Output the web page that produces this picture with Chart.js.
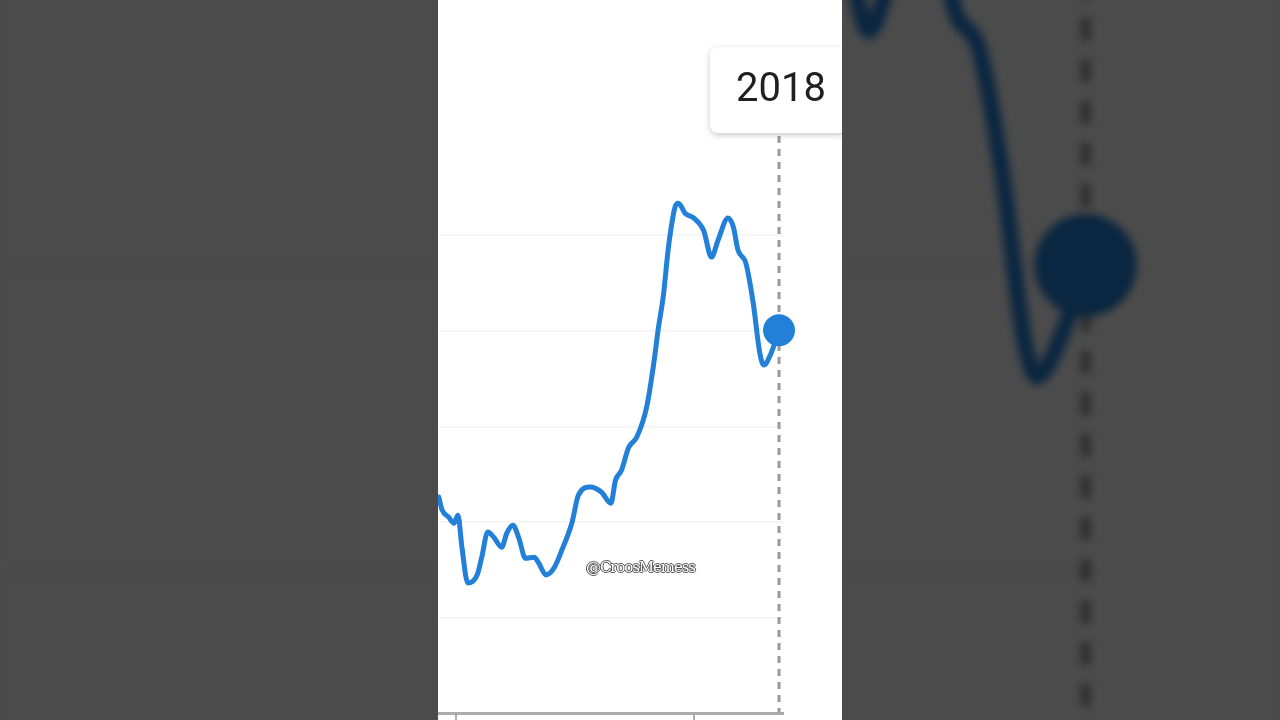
<!DOCTYPE html>
<html>
<head>
<meta charset="utf-8">
<script src="https://cdn.jsdelivr.net/npm/chart.js@4/dist/chart.umd.min.js"></script>
<style>
	html, body { margin: 0; padding: 0; width: 1280px; height: 720px; overflow: hidden; background: #4b4b4b; }
	#backdrop { position: absolute; left: 438px; top: 0; width: 404px; height: 720px; background: #fff; overflow: hidden;
		transform: scale(3.2); transform-origin: 202px 360px; filter: brightness(0.294) blur(1.4px); }
	#panel { position: absolute; left: 438px; top: 0; width: 404px; height: 720px; background: #fff; overflow: hidden; }
	canvas { position: absolute; left: -15px; top: 0; }
	#watermark { position: absolute; left: 586px; top: 558px; font: 15px "DejaVu Serif", serif; letter-spacing: -1.1px;
		color: #fff; text-shadow: -1px 0 #555, 1px 0 #555, 0 -1px #555, 0 1px #555; }
</style>
</head>
<body>
<div id="backdrop"><canvas id="bg" width="419" height="729"></canvas></div>
<div id="panel"><canvas id="main" width="419" height="729"></canvas></div>
<div id="watermark">@CroosMemess</div>
<script>
// x = months counted from Jan 2014, y = search interest
var months = [-3.5, -2.6, -2.1, -1.1, -0.3, 0.3, 0.9, 1.8, 3.2, 3.9, 4.8, 5.7, 6.9, 7.7, 8.6, 9.5, 10.5, 11.8, 12.5,
	13.6, 14.8, 16.0, 17.5, 18.5, 20.3, 22.0, 23.4, 24.1, 25.0, 26.1, 27.3, 28.8, 29.8, 30.6, 31.3, 32.1, 33.1, 33.6,
	34.6, 35.9, 37.4, 38.6, 39.6, 41.1, 41.9, 42.6, 43.8, 44.9, 45.9, 46.5, 47.6, 48.8];
var interest = [48.5, 45.2, 42.5, 41.0, 39.7, 41.4, 34.7, 27.2, 28.9, 32.6, 37.9, 36.8, 34.7, 37.7, 39.3, 36.6, 32.4, 32.6, 31.4,
	28.9, 30.3, 34.1, 39.7, 45.6, 47.3, 46.2, 43.9, 48.7, 50.8, 55.6, 57.7, 64.0, 72.4, 80.8, 87.0, 97.5, 105.9, 106.7,
	104.6, 103.6, 101.0, 95.4, 99.0, 103.6, 101.7, 96.9, 94.1, 85.8, 75.3, 72.8, 75.3, 80.1];
var xTicks = [0, 36];
var yTicks = [20, 40, 60, 80, 100];
var tooltipLabel = '2018';

var lineColor = '#2280d8';
var last = interest.length - 1;

var points = [];
for (var i = 0; i < months.length; i++) {
	points.push({ x: months[i], y: interest[i] });
}

// dashed guide under the hovered point and the year box above it
var hoverPlugin = {
	id: 'hoverGuide',
	beforeDatasetsDraw: function(chart) {
		var ctx = chart.ctx;
		var pt = chart.getDatasetMeta(0).data[last];
		ctx.save();
		ctx.strokeStyle = '#9a9a9a';
		ctx.lineWidth = 3;
		ctx.setLineDash([7, 6]);
		ctx.beginPath();
		ctx.moveTo(pt.x, 136);
		ctx.lineTo(pt.x, chart.chartArea.bottom);
		ctx.stroke();
		ctx.restore();
	},
	afterDraw: function(chart) {
		var ctx = chart.ctx;
		var pt = chart.getDatasetMeta(0).data[last];
		var w = 138, h = 86, top = 47;
		var left = pt.x - w / 2;
		ctx.save();
		ctx.shadowColor = 'rgba(0,0,0,0.22)';
		ctx.shadowBlur = 6;
		ctx.shadowOffsetY = 2;
		ctx.fillStyle = '#fff';
		ctx.beginPath();
		ctx.roundRect(left, top, w, h, 8);
		ctx.fill();
		ctx.restore();
		ctx.save();
		ctx.fillStyle = '#202020';
		ctx.font = '40px Roboto';
		ctx.textAlign = 'center';
		ctx.textBaseline = 'alphabetic';
		ctx.fillText(tooltipLabel, pt.x + 2, 101);
		ctx.restore();
	}
};

function makeChart(id, dpr) {
	return new Chart(document.getElementById(id), {
		type: 'line',
		data: {
			datasets: [{
				data: points,
				borderColor: lineColor,
				backgroundColor: lineColor,
				borderWidth: 5,
				cubicInterpolationMode: 'monotone',
				borderCapStyle: 'round',
				borderJoinStyle: 'round',
				clip: false,
				pointRadius: function(c) { return c.dataIndex === last ? 16 : 0; },
				pointBorderWidth: 0
			}]
		},
		options: {
			responsive: false,
			animation: false,
			devicePixelRatio: dpr,
			events: [],
			layout: { padding: { left: 0, right: 59, top: 44, bottom: 0 } },
			plugins: { legend: { display: false }, tooltip: { enabled: false } },
			scales: {
				x: {
					type: 'linear',
					min: -2.56,
					max: 49.4,
					afterBuildTicks: function(s) { s.ticks = xTicks.map(function(v) { return { value: v }; }); },
					ticks: { display: false },
					grid: { drawOnChartArea: false, drawTicks: true, tickLength: 7, color: '#ababab', lineWidth: 2 },
					border: { display: true, color: '#ababab', width: 3 }
				},
				y: {
					min: 0,
					max: 140,
					afterBuildTicks: function(s) { s.ticks = yTicks.map(function(v) { return { value: v }; }); },
					ticks: { display: false },
					grid: { drawTicks: false, color: '#f3f3f3', lineWidth: 1.5 },
					border: { display: false }
				}
			}
		},
		plugins: [hoverPlugin]
	});
}

makeChart('bg', 3.2);
makeChart('main', 1);
</script>
</body>
</html>
